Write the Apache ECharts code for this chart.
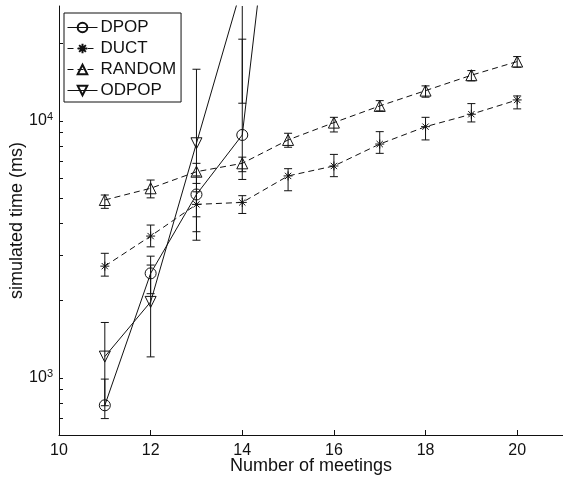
<!DOCTYPE html>
<html>
<head>
<meta charset="utf-8">
<script src="https://cdn.jsdelivr.net/npm/echarts@6/dist/echarts.min.js"></script>
<style>
    html, body { margin: 0; padding: 0; background: #fff; }
    #chart { width: 563px; height: 477px; }
</style>
</head>
<body>
<div id="chart"></div>
<script>
// data (ms), one entry per meeting count
var meetings   = [11, 12, 13, 14, 15, 16, 17, 18, 19, 20];

var dpopMean   = [783, 2553, 5175, 8820, 295000];
var dpopLow    = [695, 2128, 3707, 5920];
var dpopHigh   = [990, 2978, 6110, 20800];

var ductMean   = [2723, 3565, 4735, 4820, 6110, 6680, 8130, 9500, 10620, 12070];
var ductLow    = [2490, 3237, 4237, 4365, 5350, 6070, 7480, 8436, 9910, 11140];
var ductHigh   = [3055, 3935, 5300, 5120, 6520, 7410, 9085, 10330, 11680, 12510];

var randomMean = [4925, 5470, 6346, 6840, 8436, 9850, 11440, 13120, 15060, 17020];
var randomLow  = [4570, 5020, 5714, 6346, 7900, 9060, 10940, 12370, 14320, 16180];
var randomHigh = [5150, 5890, 6840, 7230, 8955, 10330, 11995, 13690, 15700, 17800];

var odpopMean  = [1211, 1977, 8187, 33700];
var odpopLow   = [780, 1208, 3435, 11720];
var odpopHigh  = [1644, 2750, 15890, 56000];

var yLabelTicks = [1000, 10000];
var yMinorTicks = [600, 700, 800, 900, 1000, 2000, 3000, 4000, 5000, 6000, 7000, 8000, 9000, 10000, 20000];

var fontFam = 'Liberation Sans, Arial, Helvetica, sans-serif';
var ink = '#111';
var asterisk = 'path://M5,0L5,10M0,5L10,5M1.5,1.5L8.5,8.5M8.5,1.5L1.5,8.5';

function pairs(vals){
    var out = [];
    for(var i = 0; i < vals.length; i++)
        out.push([meetings[i], vals[i]]);
    return out;
}
function bars(lo, hi){
    var out = [];
    for(var i = 0; i < lo.length; i++)
        out.push([meetings[i], lo[i], hi[i]]);
    return out;
}
function renderBar(params, api){
    var x = api.value(0);
    var lo = api.coord([x, api.value(1)]);
    var hi = api.coord([x, api.value(2)]);
    var w = 4;
    var st = {stroke: ink, lineWidth: 1};
    return {
        type: 'group',
        children: [
            {type: 'line', shape: {x1: lo[0], y1: lo[1], x2: hi[0], y2: hi[1]}, style: st},
            {type: 'line', shape: {x1: lo[0] - w, y1: lo[1], x2: lo[0] + w, y2: lo[1]}, style: st},
            {type: 'line', shape: {x1: hi[0] - w, y1: hi[1], x2: hi[0] + w, y2: hi[1]}, style: st}
        ]
    };
}
function lineSeries(name, vals, symbol, size, rotate, dashed){
    return {
        name: name,
        type: 'line',
        data: pairs(vals),
        symbol: symbol,
        symbolSize: size,
        symbolRotate: rotate,
        showAllSymbol: true,
        clip: true,
        z: 3,
        lineStyle: {color: ink, width: 1, type: dashed ? [6, 4] : 'solid'},
        itemStyle: {color: 'rgba(0,0,0,0)', borderColor: ink, borderWidth: 1},
        emphasis: {disabled: true}
    };
}
function barSeries(lo, hi){
    return {
        type: 'custom',
        renderItem: renderBar,
        data: bars(lo, hi),
        clip: true,
        z: 2,
        silent: true
    };
}

var chart = echarts.init(document.getElementById('chart'));
chart.setOption({
    animation: false,
    backgroundColor: '#fff',
    grid: {left: 59, right: 0, top: 6, bottom: 42, outerBoundsMode: 'none'},
    legend: {
        data: ['DPOP', 'DUCT', 'RANDOM', 'ODPOP'],
        orient: 'vertical',
        left: 64,
        top: 13,
        itemWidth: 30,
        itemHeight: 12,
        itemGap: 4,
        padding: [6, 5, 3, 3],
        borderColor: ink,
        borderWidth: 1,
        backgroundColor: '#fff',
        lineStyle: {width: 1},
        textStyle: {color: ink, fontSize: 17, fontFamily: fontFam, padding: [0, 0, 0, -2]},
        selectedMode: false
    },
    xAxis: {
        type: 'value',
        min: 10,
        max: 21,
        interval: 2,
        name: 'Number of meetings',
        nameLocation: 'middle',
        nameGap: 22,
        nameMoveOverlap: false,
        nameTextStyle: {color: ink, fontSize: 18, fontFamily: fontFam},
        axisLine: {lineStyle: {color: ink, width: 1}},
        axisTick: {inside: true, length: 5, lineStyle: {color: ink}},
        axisLabel: {color: ink, fontSize: 16, fontFamily: fontFam, margin: 8, showMaxLabel: false},
        splitLine: {show: false}
    },
    yAxis: {
        type: 'log',
        logBase: 10,
        min: 600,
        max: 28000,
        name: 'simulated time (ms)',
        nameLocation: 'middle',
        nameGap: 33,
        nameMoveOverlap: false,
        nameTextStyle: {color: ink, fontSize: 18, fontFamily: fontFam},
        axisLine: {show: true, lineStyle: {color: ink, width: 1}},
        axisTick: {inside: true, length: 4, lineStyle: {color: ink}, customValues: yMinorTicks},
        axisLabel: {
            customValues: yLabelTicks,
            margin: 6,
            formatter: function(v){
                return '{b|10}{s|' + Math.round(Math.log10(v)) + '}';
            },
            rich: {
                b: {color: ink, fontSize: 16, fontFamily: fontFam},
                s: {color: ink, fontSize: 11, fontFamily: fontFam, verticalAlign: 'top', padding: [0, 0, 8, 0]}
            }
        },
        splitLine: {show: false}
    },
    series: [
        barSeries(dpopLow, dpopHigh),
        barSeries(ductLow, ductHigh),
        barSeries(randomLow, randomHigh),
        barSeries(odpopLow, odpopHigh),
        lineSeries('DPOP', dpopMean, 'circle', 11, 0, false),
        lineSeries('DUCT', ductMean, asterisk, 9, 0, true),
        lineSeries('RANDOM', randomMean, 'triangle', 11, 0, true),
        lineSeries('ODPOP', odpopMean, 'triangle', 11, 180, false)
    ]
});
</script>
</body>
</html>
